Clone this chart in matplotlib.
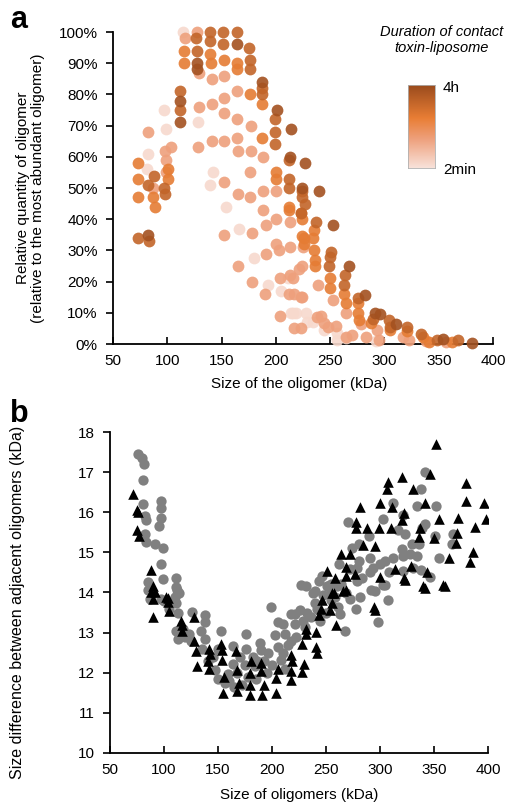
import numpy as np
import matplotlib
matplotlib.use("Agg")
from matplotlib import pyplot as plt
from matplotlib.colors import LinearSegmentedColormap

plt.rcParams['font.family'] = ['Liberation Sans', 'DejaVu Sans']

# ---- panel a: relative quantity vs oligomer size, grouped by contact time
# colour level of each group (0 = 2min, 1 = 4h)
levels_a = [0.05, 0.35, 0.62, 0.8, 0.95]

x_2min = [114.8, 97, 99, 128.6, 82, 81, 142, 139.5, 154, 166, 180, 193, 205, 219, 211,
          215.6, 229, 244, 256, 256, 265, 292.5, 234, 228, 214]
y_2min = [100, 75, 69, 71, 61, 56, 55, 51, 44, 37, 27.5, 19, 17, 10, 21,
          9.8, 7, 4.5, 3.4, 1.3, 2, 1, 7, 10, 10]

x_short = [116, 127, 129, 141, 152, 164, 152, 141, 129, 152, 164, 176.7, 82.5, 141, 152,
           164, 128, 165, 177, 188, 98, 103, 99, 99, 87, 152, 165, 176, 176, 188,
           200, 188, 200, 213, 191, 178, 152, 200, 203, 213, 191, 165, 221, 178, 204,
           213, 216, 190, 217, 224, 204, 217, 225, 224, 239, 212, 223, 253, 238, 244,
           265, 278, 255.5, 265, 270, 283, 295, 293, 317, 323, 338, 356.8, 248, 242, 223]
y_short = [98, 100, 87, 85, 86, 81, 79, 77, 76, 74, 72, 70, 68, 65, 65,
           66, 63, 62, 62, 60, 62, 63, 59, 55, 50, 52, 48, 47, 55, 49,
           49, 43, 40, 39, 38, 35.6, 35, 32, 30, 31, 29, 25, 24, 20, 21,
           22, 21, 16, 16, 15, 9, 5, 31, 25, 19, 16, 15, 14, 8.8, 6.7,
           10, 6.3, 5.8, 2.4, 2.8, 2.4, 1.3, 4.5, 2.4, 1.3, 1, 0.6, 5.5, 9, 5]

x_mid = [115, 139, 115, 140, 152, 164, 187, 176, 164, 187, 73, 101, 101, 73, 73,
         87, 89, 200, 200, 212, 212, 226, 226, 222.7, 224, 235, 224, 234, 235, 236,
         236, 250, 250, 262.7, 264.5, 276, 276, 277, 288, 305, 321, 335.6, 362, 341.5]
y_mid = [94, 93, 90, 90, 91, 90, 77, 80, 88, 66, 58, 56, 53, 53, 47,
         47, 44, 53, 55, 44, 43, 34, 32, 42, 40, 36.5, 34.6, 34, 30, 27,
         25, 21, 18, 16, 13, 13, 10, 7.7, 6.6, 4.5, 4.2, 2.1, 0.8, 0.6]

x_long = [126, 139, 139, 151.6, 151.6, 164, 127, 175, 176, 176, 187, 187, 111.7, 112, 199,
          199, 199, 212, 88, 82, 97, 98, 212, 212, 223, 227, 73, 83, 223.8, 224,
          237, 251, 249.7, 249, 263.7, 262.7, 276, 289.5, 304.5, 305, 320.5, 334, 348, 368]
y_long = [98, 100, 97, 100, 96, 100, 94, 95, 91, 88, 82, 80, 81, 75, 72,
          68, 64, 59, 54, 51, 50, 48, 53, 50, 42, 45, 34, 33, 49, 47,
          39, 29.6, 28, 25, 22, 19, 14.6, 8, 7.7, 5.5, 5.5, 3.2, 1.3, 1.3]

x_4h = [164, 127, 127, 187.5, 112, 112, 200.8, 214, 213, 226.8, 223.8, 82, 240, 253, 267.7,
        282, 291, 296, 310.6, 354, 381]
y_4h = [96, 90, 88, 84, 78, 71, 75, 69, 60, 58, 50, 35, 49, 38, 25,
        15.7, 9.8, 9.7, 6.4, 1.7, 0.4]

# ---- panel b: size difference between adjacent oligomers
x_circ = [76.2, 79.3, 81.5, 80.3, 80.3, 82.4, 83.3, 82.4, 83.3, 97, 97, 97, 95.7, 91.7, 98.8,
          97, 99.4, 85.5, 111, 111, 114, 85, 86.7, 97.5, 109.8, 112.3, 111.4, 112.9, 111.4, 112.9,
          119, 123.6, 125.8, 134.4, 137.5, 138.1, 137.5, 153, 140.6, 146.9, 150, 156.2, 159.3, 163.9, 163.9,
          170, 174.7, 176.2, 176.2, 182.4, 183.9, 188.6, 189.5, 196.3, 199.4, 202.5, 205.6, 208.6, 211.7, 210.1,
          205.6, 217.9, 221, 221, 225.6, 217.9, 228.7, 230.2, 236.4, 238, 239.5, 244.1, 247.2, 251.8, 254.9,
          261.1, 262.6, 267.3, 268.8, 271.9, 278.1, 281.2, 292, 298.1, 304.3, 307.4, 227,
          160, 165, 172, 178, 185, 195, 200, 210, 215, 222, 145, 135, 125, 118, 105,
          100, 150, 186, 193, 168, 212, 232, 242, 250, 258, 264, 255, 246,
          341.7, 337.7, 311.7, 321.6, 334, 351.9, 270.6, 303, 316.9, 341.7, 338.6, 290.2, 281, 323.1, 329.3,
          336.3, 350.9, 367.3, 366.3, 355, 320, 320.9, 311.7, 304.6, 300, 290.7, 293.8, 281, 327.8, 334,
          330.2, 337.7, 346.3, 321.6, 308.6, 290.7, 283, 303, 295.4, 278.4, 272.2, 262.3, 278.9, 243.8, 231.5,
          239.8, 250.6, 259.9, 253.7, 273.8]
y_circ = [17.45, 17.35, 17.2, 16.8, 16.2, 15.9, 15.8, 15.45, 15.25, 16.28, 16.1, 15.86, 15.65, 15.2, 15.12,
          14.72, 14.33, 14.25, 14.37, 14.13, 13.98, 14.06, 13.85, 13.85, 13.9, 14.06, 13.73, 13.48, 13.05, 12.84,
          12.88, 12.97, 13.52, 13.05, 13.26, 13.44, 12.84, 13.05, 12.3, 12.07, 11.85, 11.74, 11.98, 12.22, 12.66,
          12.4, 12.2, 12.97, 12.6, 12.4, 12.16, 12.73, 12.56, 12.48, 13.64, 12.93, 12.64, 12.32, 12.97, 13.22,
          13.26, 12.8, 13.22, 13.47, 13.56, 13.47, 13.3, 13.14, 13.39, 13.98, 13.73, 13.3, 13.94, 14.15, 13.81,
          13.64, 13.47, 13.05, 13.98, 13.85, 13.6, 13.9, 14.06, 13.26, 14.18, 13.81, 14.18,
          11.8, 11.65, 11.7, 11.9, 11.85, 12.0, 12.2, 12.5, 12.7, 12.9, 12.4, 12.6, 12.8, 13.1, 13.6,
          13.8, 12.6, 12.3, 12.3, 12.0, 12.1, 13.5, 13.6, 13.5, 13.9, 14.2, 14.2, 14.4,
          17.0, 16.57, 16.24, 15.94, 16.15, 16.15, 15.76, 15.84, 15.57, 15.71, 15.6, 15.41, 15.2, 15.45, 15.2,
          15.2, 15.41, 15.47, 15.2, 14.87, 15.08, 14.91, 14.87, 14.79, 14.71, 14.87, 14.62, 14.79, 14.96, 14.91,
          14.62, 14.55, 14.39, 14.54, 14.5, 14.5, 14.37, 14.19, 14.04, 14.29, 14.58, 14.71, 14.62, 14.29, 14.17,
          14.04, 14.17, 14.17, 13.96, 15.12]

x_tri = [71.6, 74.7, 76, 75.3, 77, 88, 90, 91.7, 104,
         88.2, 89.8, 89.8, 102, 103.8, 104.2, 116, 116.5, 116.5, 127.6, 128.2, 129.8, 130.7, 142, 143, 141,
         142, 152.9, 153.5, 153.8, 155.4, 154.4, 167, 168, 169, 168, 180.8, 179.3, 179.9, 179.9, 190, 190,
         192.4, 191, 203.6, 203.6, 205.6, 217.3, 218.2, 217.3, 217.3, 227.5, 229.7, 228, 231.2, 231.8, 240.4,
         241, 242, 243.5, 245, 246.6, 253.4, 255.9, 257.4, 259, 268.2, 294.3, 295.3, 341.6, 360.1, 323,
         351.9, 346.3, 320, 307.7, 306.2, 330.2, 379.6, 379.6, 396.3, 398, 341.7, 300, 311, 322.5, 320.4,
         281.6, 355, 372.5, 388, 278, 278, 288, 299, 310.6, 336.9, 336.3, 350, 371.6, 370.4, 284,
         295.4, 385.8, 383.3, 364, 263.6, 272, 268.8, 251.3, 258.4, 268.2, 276.9, 314, 328.7, 343.2, 322.2,
         300, 339.4, 358, 265.4, 255.3]
y_tri = [16.45, 16.05, 16.0, 15.57, 15.4, 14.55, 14.17, 14.0, 13.87,
         14.02, 13.85, 13.4, 13.9, 13.77, 13.53, 13.3, 13.18, 13.05, 13.38, 12.8, 12.55, 12.18, 12.6, 12.47, 12.3,
         12.1, 12.72, 12.56, 12.32, 11.9, 11.49, 12.53, 12.08, 11.75, 11.55, 12.3, 12.0, 11.69, 11.45, 12.04, 12.25,
         11.7, 11.44, 11.5, 11.88, 12.1, 12.45, 12.3, 12.05, 11.83, 12.02, 12.22, 12.72, 12.97, 13.1, 13.02,
         12.63, 12.5, 13.44, 13.6, 13.81, 13.56, 13.73, 13.98, 13.18, 14.06, 13.64, 13.56, 14.12, 14.16, 14.3,
         17.7, 16.96, 16.87, 16.76, 16.57, 16.59, 16.73, 16.29, 16.24, 15.82, 16.24, 16.24, 16.13, 15.99, 15.8,
         16.13, 15.84, 15.86, 15.63, 15.76, 15.6, 15.6, 15.6, 15.6, 15.6, 15.38, 15.37, 15.49, 15.24, 15.19,
         15.16, 15.02, 14.75, 14.87, 14.96, 14.97, 14.64, 14.54, 14.37, 14.42, 14.46, 14.58, 14.66, 14.5, 14.37,
         14.39, 14.17, 14.19, 14.04, 13.98]

cmap = LinearSegmentedColormap.from_list(
    'contact', [(0, '#f8e2da'), (0.35, '#eea07c'), (0.6, '#e97e35'), (1, '#9a4b1d')])

fig = plt.figure(figsize=(5.08, 8.11), dpi=100)

# ---------------- panel a
ax1 = fig.add_axes([113 / 508, 1 - 344 / 811, 380 / 508, 312 / 811])
groups = [(x_2min, y_2min), (x_short, y_short), (x_mid, y_mid), (x_long, y_long), (x_4h, y_4h)]
for (gx, gy), lev in zip(groups, levels_a):
    ax1.scatter(gx, gy, s=72, color=cmap(lev), alpha=0.9, linewidths=0, zorder=3, clip_on=False)
ax1.set_xlim(50, 400)
ax1.set_ylim(0, 100)
ax1.set_xticks(np.arange(50, 401, 50))
ax1.set_yticks(np.arange(0, 101, 10))
ax1.set_yticklabels([f'{v}%' for v in range(0, 101, 10)])
ax1.set_xlabel('Size of the oligomer (kDa)', fontsize=11)
ax1.xaxis.set_label_coords(0.49, -0.105)
ax1.set_ylabel('Relative quantity of oligomer\n(relative to the most abundant oligomer)',
               fontsize=11, linespacing=1.1)
ax1.yaxis.set_label_coords(-0.18, 0.5)

# colour scale legend
cax = fig.add_axes([408 / 508, 1 - 168 / 811, 27 / 508, 83 / 811])
grad = np.linspace(0, 1, 256).reshape(-1, 1)
cax.imshow(grad, aspect='auto', cmap=cmap, origin='lower')
cax.set_xticks([])
cax.set_yticks([])
for sp in cax.spines.values():
    sp.set_color('#b0b0b0')
    sp.set_linewidth(0.6)
fig.text(443 / 508, 1 - 88 / 811, '4h', fontsize=11, va='center', ha='left')
fig.text(443 / 508, 1 - 170 / 811, '2min', fontsize=11, va='center', ha='left')
fig.text(442 / 508, 1 - 40 / 811, 'Duration of contact\ntoxin-liposome', fontsize=10.5,
         style='italic', ha='center', va='center', linespacing=1.2)

# ---------------- panel b
ax2 = fig.add_axes([110 / 508, 1 - 753 / 811, 378 / 508, 321 / 811])
ax2.scatter(x_circ, y_circ, s=55, color='#808080', linewidths=0, zorder=3)
ax2.scatter(x_tri, y_tri, s=58, marker='^', color='black', linewidths=0, zorder=4)
ax2.set_xlim(50, 400)
ax2.set_ylim(10, 18)
ax2.set_xticks(np.arange(50, 401, 50))
ax2.set_yticks(np.arange(10, 19, 1))
ax2.set_xlabel('Size of oligomers (kDa)', fontsize=11)
ax2.xaxis.set_label_coords(0.5, -0.11)
ax2.set_ylabel('Size difference between adjacent oligomers (kDa)', fontsize=11.5)
ax2.yaxis.set_label_coords(-0.225, 0.47)

for ax in (ax1, ax2):
    ax.spines['top'].set_visible(False)
    ax.spines['right'].set_visible(False)
    ax.spines['left'].set_linewidth(1.3)
    ax.spines['bottom'].set_linewidth(1.3)
    ax.tick_params(axis='y', direction='out', length=5, width=1.2, labelsize=11, pad=6)
    ax.tick_params(axis='x', direction='in', length=5, width=1.2, labelsize=11, pad=7)

fig.text(10 / 508, 1 - 20 / 811, 'a', fontsize=22, fontweight='bold', va='center')
fig.text(10 / 508, 1 - 414 / 811, 'b', fontsize=22, fontweight='bold', va='center')

fig.savefig('out.png', dpi=100)
